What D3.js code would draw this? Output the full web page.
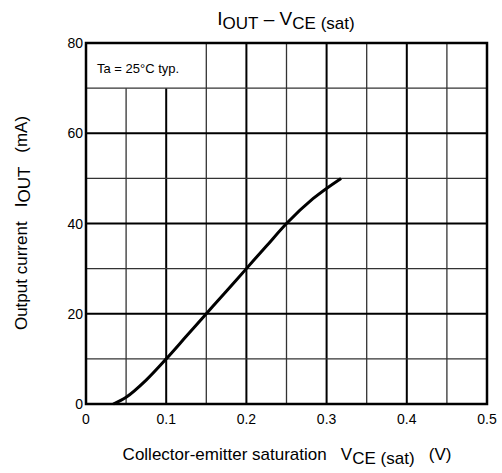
<!DOCTYPE html>
<html>
<head>
<meta charset="utf-8">
<script src="https://cdn.jsdelivr.net/npm/d3@7"></script>
<style>
  body { margin: 0; background: #fff; }
  text { font-family: "Liberation Sans", Arial, sans-serif; fill: #000; white-space: pre; }
</style>
</head>
<body>
<div class="canvas"></div>
<script>
// Curve: VCE(sat) in V, IOUT in mA
const vce = [0.034, 0.05, 0.075, 0.1, 0.125, 0.15, 0.175, 0.2, 0.225, 0.25, 0.283, 0.318];
const iout = [0, 1.5, 5.3, 10, 15, 20, 25, 30, 35, 40, 45.5, 50];
const xTicks = [0, 0.1, 0.2, 0.3, 0.4, 0.5];
const yTicks = [0, 20, 40, 60, 80];

const width = 502, height = 473;
const margin = { top: 43, right: 15, bottom: 69, left: 86 };
const graphWidth = width - margin.left - margin.right;
const graphHeight = height - margin.top - margin.bottom;

const svg = d3.select(".canvas").append("svg")
    .attr("width", width)
    .attr("height", height);

const graph = svg.append("g")
    .attr("transform", `translate(${margin.left}, ${margin.top})`);

const x = d3.scaleLinear().domain([0, 0.5]).range([0, graphWidth]);
const y = d3.scaleLinear().domain([0, 80]).range([graphHeight, 0]);

// note box covers the top-left three cells
const boxX = 0.15, boxY = 70;

// vertical grid
const vLines = d3.range(1, 10).map(i => i * 0.05);
graph.selectAll(".vgrid").data(vLines).enter().append("line")
    .attr("x1", d => x(d)).attr("x2", d => x(d))
    .attr("y1", graphHeight)
    .attr("y2", d => d < boxX ? y(boxY) : 0)
    .attr("stroke", d => Math.round(d * 100) % 10 === 0 ? "#000" : "#333")
    .attr("stroke-width", d => Math.round(d * 100) % 10 === 0 ? 2 : 1.3);

// horizontal grid
const hLines = d3.range(1, 8).map(i => i * 10);
graph.selectAll(".hgrid").data(hLines).enter().append("line")
    .attr("x1", 0).attr("x2", graphWidth)
    .attr("y1", d => y(d)).attr("y2", d => y(d))
    .attr("stroke", d => d % 20 === 0 ? "#000" : "#333")
    .attr("stroke-width", d => d % 20 === 0 ? 2 : 1.3);

// frame
graph.append("rect")
    .attr("width", graphWidth).attr("height", graphHeight)
    .attr("fill", "none").attr("stroke", "#000").attr("stroke-width", 2.5);

// tick labels
graph.selectAll(".xlab").data(xTicks).enter().append("text")
    .attr("x", d => x(d)).attr("y", graphHeight + 20)
    .attr("text-anchor", "middle").attr("font-size", 14)
    .text(d => d);

graph.selectAll(".ylab").data(yTicks).enter().append("text")
    .attr("x", -3).attr("y", d => y(d) + 5)
    .attr("text-anchor", "end").attr("font-size", 14)
    .text(d => d);

// curve
const pts = vce.map((v, i) => [v, iout[i]]);
graph.append("path")
    .datum(pts)
    .attr("fill", "none").attr("stroke", "#000").attr("stroke-width", 3)
    .attr("d", d3.line().x(d => x(d[0])).y(d => y(d[1])).curve(d3.curveMonotoneX));

// note
graph.append("text")
    .attr("x", 11).attr("y", 30)
    .attr("font-size", 13)
    .text("Ta = 25°C typ.");

// title
const title = svg.append("text")
    .attr("x", 286).attr("y", 25)
    .attr("text-anchor", "middle").attr("font-size", 19);
title.append("tspan").text("I");
title.append("tspan").attr("dy", 4).attr("font-size", 17).text("OUT");
title.append("tspan").attr("dy", -4).text(" – V");
title.append("tspan").attr("dy", 4).attr("font-size", 17).text("CE (sat)");

// x axis title
const xt = svg.append("text")
    .attr("x", 287).attr("y", 460)
    .attr("text-anchor", "middle").attr("font-size", 17);
xt.append("tspan").text("Collector-emitter saturation   V");
xt.append("tspan").attr("dy", 4).attr("font-size", 17).text("CE (sat)");
xt.append("tspan").attr("dy", -4).text("   (V)");

// y axis title
const yt = svg.append("text")
    .attr("transform", `translate(27, 223) rotate(-90)`)
    .attr("text-anchor", "middle").attr("font-size", 17);
yt.append("tspan").text("Output current   I");
yt.append("tspan").attr("dy", 3).attr("font-size", 17).text("OUT");
yt.append("tspan").attr("dy", -3).text("   (mA)");
</script>
</body>
</html>
